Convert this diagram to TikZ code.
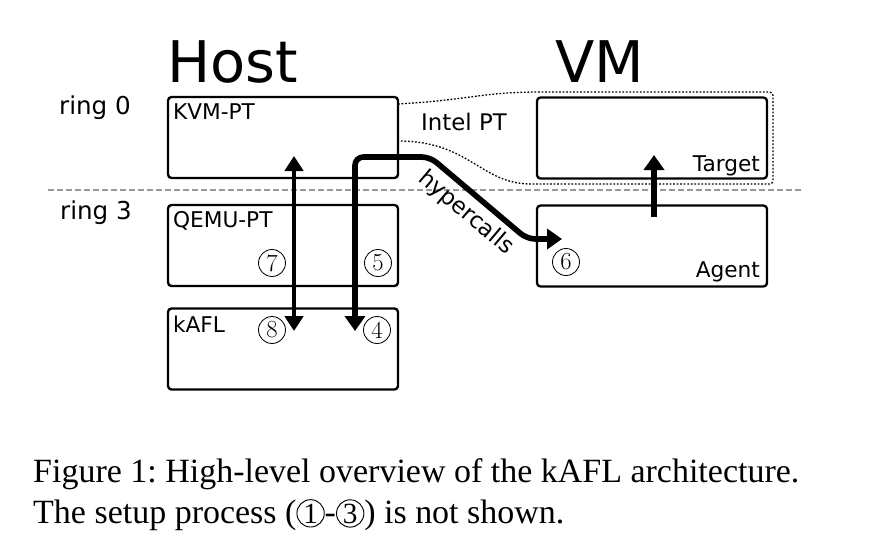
\documentclass[tikz,border=0pt]{standalone}
\usepackage{fontspec}
\newfontfamily\dejavu{DejaVu Sans}
\newfontfamily\capfont{Liberation Serif}
\usetikzlibrary{arrows.meta,positioning}

% circled step number inside the caption
\newcommand{\capnum}[1]{\tikz[baseline=(n.base)]\node[circle,draw,line width=0.8pt,inner sep=0pt,minimum size=0.82cm](n){\fontsize{25}{25}\selectfont #1};}

\tikzset{
  box/.style={draw, line width=2pt, rounded corners=3pt, inner sep=0pt,
    minimum width=230*0.03cm, minimum height=81*0.03cm},
  lbl/.style={font=\dejavu\fontsize{18.5}{18.5}\selectfont, inner sep=0pt},
  ring/.style={font=\dejavu\fontsize{21}{21}\selectfont, inner sep=0pt},
  big/.style={font=\dejavu\fontsize{49}{49}\selectfont, inner sep=0pt},
  num/.style={circle, draw, line width=0.7pt, inner sep=0pt,
    minimum size=27*0.03cm, font=\fontsize{21}{21}\selectfont},
  thick arrow/.style={line width=#1, -{Triangle[length=0.45cm,width=0.6cm]}},
  caption/.style={anchor=base west, inner sep=0pt,
    font=\capfont\fontsize{29}{35}\selectfont\frenchspacing},
}

\begin{document}
\begin{tikzpicture}[x=0.03cm,y=-0.03cm]
\useasboundingbox (0,0) rectangle (877,552);

% titles and rings
\node[big] (host) at (233,62) {Host};
\node[big] (vm) at (600,62) {VM};
\node[ring] (r0) at (95,108) {ring 0};
\node[ring] (r3) at (96,213) {ring 3};

% ring border
\coordinate (bl) at (48,190);
\coordinate (br) at (803,190);
\draw[black!40, line width=2pt, dash pattern=on 0.18cm off 0.09cm] (bl) -- (br);

% intel pt region
\draw[line width=1.1pt, dash pattern=on 1.5pt off 1.5pt, rounded corners=3pt]
  (398,104) .. controls (470,100) and (480,92) .. (545,92) -- (773,92)
  -- (773,184) -- (535,184) .. controls (480,184) and (470,141) .. (398,141);
\node[lbl, font=\dejavu\fontsize{19.5}{19.5}\selectfont] (ipt) at (464,121.5) {Intel PT};

% components
\node[box] (kvm) at (283,137.5) {};
\node[box] (qemu) at (283,245.5) {};
\node[box] (kafl) at (283,349) {};
\node[box] (target) at (652,138) {};
\node[box] (agent) at (652,246) {};

\node[lbl, below right=0.24cm and 0.18cm of kvm.north west] {KVM-PT};
\node[lbl, below right=0.22cm and 0.18cm of qemu.north west] {QEMU-PT};
\node[lbl, below right=0.26cm and 0.18cm of kafl.north west] {kAFL};
\node[lbl, above left=0.1cm and 0.24cm of target.south east] {Target};
\node[lbl, above left=0.15cm and 0.24cm of agent.south east] {Agent};

% steps
\node[num] (n7) at (272,263) {7};
\node[num] (n5) at (378,263) {5};
\node[num] (n8) at (272,330) {8};
\node[num] (n4) at (377,330) {4};
\node[num] (n6) at (566,262) {6};

% arrows
\coordinate (kq) at (294,156);
\coordinate (kb) at (294,331);
\draw[thick arrow=3.6pt, {Triangle[length=0.45cm,width=0.55cm]}-{Triangle[length=0.45cm,width=0.55cm]}] (kq) -- (kb);

\coordinate (h4) at (355,331);
\coordinate (hc) at (430,157);
\coordinate (hd) at (527,239);
\coordinate (h6) at (562,239);
\draw[thick arrow=4.8pt, {Triangle[length=0.45cm,width=0.6cm]}-{Triangle[length=0.45cm,width=0.6cm]}, rounded corners=0.25cm]
  (h4) |- (hc) -- node[lbl, sloped, below=0.17cm, pos=0.5, font=\dejavu\fontsize{19.5}{19.5}\selectfont] {hypercalls} (hd) -- (h6);

\coordinate (ta) at (654,217);
\coordinate (tt) at (654,155);
\draw[thick arrow=4.4pt] (ta) -- (tt);

% caption
\node[caption] (cap1) at (33,482) {Figure 1: High-level overview of the kAFL architecture.};
\node[caption] (cap2) at (33,523) {The setup process (\capnum{1}-\capnum{3}) is not shown.};
\end{tikzpicture}
\end{document}
